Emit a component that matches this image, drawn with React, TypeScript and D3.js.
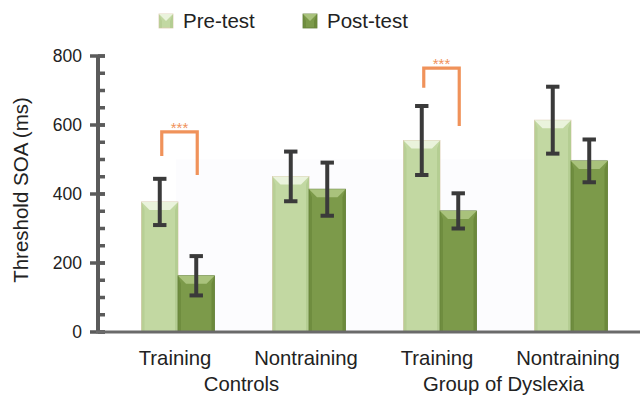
import React from "react";
import * as d3 from "d3";

// Conditions along the x axis and the two groups they belong to
const conditions = ["Controls Training", "Controls Nontraining", "Dyslexia Training", "Dyslexia Nontraining"];
const conditionLabels = ["Training", "Nontraining", "Training", "Nontraining"];
const groupLabels = ["Controls", "Group of Dyslexia"];
const seriesNames = ["Pre-test", "Post-test"];

// Threshold SOA means (ms) and error-bar half widths
const preMean = [377, 451, 555, 614];
const preErr = [67, 72, 100, 97];
const postMean = [163, 414, 351, 496];
const postErr = [57, 77, 51, 62];

// Significance brackets: condition index, bracket top, left/right leg ends (ms)
const sigCondition = [0, 2];
const sigTop = [580, 765];
const sigLeftEnd = [510, 708];
const sigRightEnd = [455, 597];
const sigText = ["***", "***"];

const yTicks = [0, 200, 400, 600, 800];
const yMinorTicks = d3.range(0, 801, 50);

const W = 640;
const H = 399;
const FONT = "'Liberation Sans', Arial, Helvetica, sans-serif";

const palette = {
  pre: { body: "#c2d8a2", top: "#eaf3dc", side: "#b3cc90", edge: "#dccab0" },
  post: { body: "#7c9a4a", top: "#a9c27c", side: "#6a873a", edge: "#5f7a36" },
};

function Bar({ x, y, w, h, c }: { x: number; y: number; w: number; h: number; c: typeof palette.pre }) {
  const b = Math.min(8, h / 2);
  const s = 3;
  return (
    <g>
      <rect x={x} y={y} width={w} height={h} fill={c.body} stroke={c.edge} strokeWidth={0.8} />
      <polygon points={`${x},${y} ${x + s},${y + b} ${x + s},${y + h} ${x},${y + h}`} fill={c.side} opacity={0.7} />
      <polygon points={`${x + w},${y} ${x + w - s},${y + b} ${x + w - s},${y + h} ${x + w},${y + h}`} fill={c.side} opacity={0.9} />
      <polygon points={`${x},${y} ${x + w},${y} ${x + w - b},${y + b} ${x + b},${y + b}`} fill={c.top} />
    </g>
  );
}

export default function App() {
  const x0 = d3
    .scaleBand<string>()
    .domain(conditions)
    .range([112.5, 636.5])
    .paddingInner(0.443)
    .paddingOuter(0.2215);
  const x1 = d3.scaleBand<string>().domain(seriesNames).range([0, x0.bandwidth()]);
  const y = d3.scaleLinear().domain([0, 800]).range([332, 56]);

  const axisX = 98;
  const axisColor = "#5b5b5b";
  const errColor = "#3a3a3a";
  const sigColor = "#f0925a";

  const series = [
    { name: seriesNames[0], mean: preMean, err: preErr, c: palette.pre },
    { name: seriesNames[1], mean: postMean, err: postErr, c: palette.post },
  ];

  const center = (i: number) => (x0(conditions[i]) ?? 0) + x0.bandwidth() / 2;
  const barCenter = (i: number, s: string) => (x0(conditions[i]) ?? 0) + (x1(s) ?? 0) + x1.bandwidth() / 2;

  return (
    <svg width={W} height={H} style={{ position: "absolute", left: 0, top: 0, display: "block" }} fontFamily={FONT}>
      <rect x={0} y={0} width={W} height={H} fill="#ffffff" />
      {/* faint plot-area wash */}
      <rect x={176} y={y(500)} width={430} height={y(0) - y(500)} fill="#fcfcfe" />

      {/* legend */}
      {series.map((s, i) => {
        const lx = i === 0 ? 159 : 303;
        return (
          <g key={s.name}>
            <Bar x={lx} y={14} w={14} h={14} c={s.c} />
            <text x={lx + 24} y={28.3} fontSize={20.5} fill="#222">
              {s.name}
            </text>
          </g>
        );
      })}

      {/* bars */}
      {series.map((s) =>
        conditions.map((cond, i) => {
          const bx = (x0(cond) ?? 0) + (x1(s.name) ?? 0);
          const by = y(s.mean[i]);
          return <Bar key={s.name + cond} x={bx} y={by} w={x1.bandwidth()} h={y(0) - by} c={s.c} />;
        })
      )}

      {/* error bars */}
      {series.map((s) =>
        conditions.map((cond, i) => {
          const cx = barCenter(i, s.name);
          const hi = y(s.mean[i] + s.err[i]);
          const lo = y(s.mean[i] - s.err[i]);
          return (
            <g key={"e" + s.name + cond} stroke={errColor} strokeWidth={4}>
              <line x1={cx} x2={cx} y1={hi} y2={lo} />
              <line x1={cx - 6.7} x2={cx + 6.7} y1={hi} y2={hi} />
              <line x1={cx - 6.7} x2={cx + 6.7} y1={lo} y2={lo} />
            </g>
          );
        })
      )}

      {/* significance brackets */}
      {sigCondition.map((ci, k) => {
        const lx = barCenter(ci, seriesNames[0]) + 2;
        const rx = barCenter(ci, seriesNames[1]) + 1;
        const ty = y(sigTop[k]);
        return (
          <g key={"sig" + k}>
            <path
              d={`M${lx},${y(sigLeftEnd[k])} V${ty} H${rx} V${y(sigRightEnd[k])}`}
              fill="none"
              stroke={sigColor}
              strokeWidth={3.2}
            />
            <text x={(lx + rx) / 2} y={ty + 1} fontSize={15} fill={sigColor} textAnchor="middle">
              {sigText[k]}
            </text>
          </g>
        );
      })}

      {/* y axis */}
      <line x1={axisX} x2={axisX} y1={y(800)} y2={y(0)} stroke={axisColor} strokeWidth={4} />
      {yMinorTicks.map((t) => (
        <line key={"m" + t} x1={axisX} x2={axisX + 7} y1={y(t)} y2={y(t)} stroke={axisColor} strokeWidth={3.5} />
      ))}
      {yTicks.map((t) => (
        <g key={"t" + t}>
          <line x1={axisX - 8} x2={axisX + 7} y1={y(t)} y2={y(t)} stroke={axisColor} strokeWidth={3.5} />
          <text x={82} y={y(t) + 6.3} fontSize={17.5} fill="#222" textAnchor="end">
            {t}
          </text>
        </g>
      ))}
      <text
        transform={`translate(28,190) rotate(-90)`}
        fontSize={20.5}
        fill="#222"
        textAnchor="middle"
      >
        Threshold SOA (ms)
      </text>

      {/* x axis baseline */}
      <line x1={axisX - 2} x2={W} y1={y(0)} y2={y(0)} stroke="#6a6a6a" strokeWidth={3} />

      {/* category labels */}
      {conditionLabels.map((lab, i) => (
        <text key={"c" + i} x={center(i) - 3} y={365} fontSize={20.3} fill="#222" textAnchor="middle">
          {lab}
        </text>
      ))}
      {groupLabels.map((lab, g) => (
        <text key={"g" + g} x={(center(2 * g) + center(2 * g + 1)) / 2 - 2} y={391} fontSize={20.3} fill="#222" textAnchor="middle">
          {lab}
        </text>
      ))}
    </svg>
  );
}
